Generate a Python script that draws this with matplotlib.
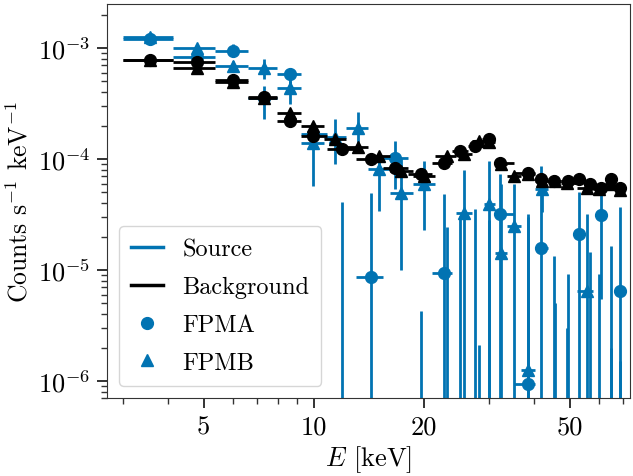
import numpy as np
import matplotlib
matplotlib.use("Agg")
import matplotlib.pyplot as plt
from matplotlib.lines import Line2D
from matplotlib.ticker import LogLocator, FuncFormatter, NullFormatter

plt.rcParams['font.family'] = 'serif'
plt.rcParams['font.serif'] = ['cmr10']
plt.rcParams['mathtext.fontset'] = 'cm'
plt.rcParams['axes.unicode_minus'] = False

blue = '#0173b2'

# energy range covered by the spectra (keV)
e_lo, e_hi = 3.0, 71.0

## FPMA (circles): bin centres, source counts with bounds, background
e_a = [3.564, 4.788, 6.007, 7.30, 8.60, 9.92, 11.90, 14.29, 16.65, 19.57, 22.66, 25.14,
       27.63, 30.07, 32.33, 38.43, 41.84, 45.41, 49.43, 52.97, 56.77, 61.03, 65.0, 68.77]
src_a = [1.206e-3, 8.34e-4, 9.45e-4, 3.53e-4, 5.82e-4, 1.67e-4, 3e-7, 8.63e-6, 1.03e-4, 3e-7,
         9.37e-6, 3e-7, 3e-7, 3e-7, 3.17e-5, 9.41e-7, 1.58e-5, 3e-7, 3e-7, 2.09e-5, 3e-7,
         3.13e-5, 3e-7, 6.52e-6]
src_a_lo = [1.10e-3, 7.6e-4, 8.5e-4, 2.28e-4, 4.73e-4, 1.3e-4, 1e-7, 1e-7, 5.32e-5, 1e-7,
            1e-7, 1e-7, 1e-7, 1e-7, 1e-7, 1e-7, 1e-7, 1e-7, 1e-7, 1e-7, 1e-7, 5.51e-6, 1e-7, 1e-7]
src_a_hi = [1.32e-3, 9.1e-4, 1.09e-3, 4.54e-4, 6.46e-4, 2.05e-4, 4.06e-5, 4.90e-5, 1.445e-4,
            4.30e-6, 4.80e-5, 3.04e-5, 3.51e-5, 2.85e-5, 7.27e-5, 3.17e-5, 8.64e-5, 1.35e-5,
            9.28e-6, 5.00e-5, 1.44e-5, 4.80e-5, 2.0e-6, 3.66e-5]
bkg_a = [7.79e-4, 7.43e-4, 5.19e-4, 3.61e-4, 2.19e-4, 1.60e-4, 1.24e-4, 9.94e-5, 8.36e-5,
         7.27e-5, 9.28e-5, 1.18e-4, 1.31e-4, 1.51e-4, 9.28e-5, 7.54e-5, 6.56e-5, 6.33e-5,
         6.33e-5, 6.56e-5, 5.91e-5, 5.5e-5, 6.56e-5, 5.44e-5]
bkg_a_err = [3e-5, 3e-5, 2.5e-5, 2e-5, 1.5e-5, 1.2e-5, 1e-5, 8e-6, 7e-6, 6e-6, 7e-6, 8e-6,
             9e-6, 1e-5, 7e-6, 6e-6, 5e-6, 5e-6, 5e-6, 5e-6, 5e-6, 5e-6, 5e-6, 5e-6]

## FPMB (triangles)
e_b = [3.564, 4.788, 6.007, 7.30, 8.60, 9.92, 11.41, 13.19, 15.05, 17.34, 19.97, 23.05, 25.78,
       28.24, 30.17, 32.43, 35.19, 38.56, 41.89, 45.56, 49.12, 55.60, 60.07, 64.80, 68.55]
src_b = [1.245e-3, 9.94e-4, 6.92e-4, 6.56e-4, 4.35e-4, 1.39e-4, 1.58e-4, 1.92e-4, 8.07e-5,
         4.95e-5, 5.91e-5, 3e-7, 3.27e-5, 3e-7, 3.90e-5, 1.41e-5, 2.47e-5, 1.26e-6, 5.32e-5,
         3e-7, 3e-7, 6.52e-6, 3e-7, 3e-7, 3e-7]
src_b_lo = [1.16e-3, 9.1e-4, 6.2e-4, 5.25e-4, 3.12e-4, 5.67e-5, 8.96e-5, 1.28e-4, 3.37e-5,
            1.01e-5, 2.27e-5, 1e-7, 1e-7, 1e-7, 1e-7, 1e-7, 1e-7, 1e-7, 3.3e-5, 1e-7, 1e-7,
            1e-7, 1e-7, 1e-7, 1e-7]
src_b_hi = [1.34e-3, 1.09e-3, 7.7e-4, 7.96e-4, 5.06e-4, 1.74e-4, 2.28e-4, 2.64e-4, 1.036e-4,
            1.015e-4, 9.53e-5, 2.42e-5, 7.90e-5, 2.12e-6, 9.59e-5, 6.0e-5, 5.91e-5, 3.0e-5,
            7.5e-5, 5e-6, 3e-6, 3.17e-5, 9.28e-6, 1.63e-5, 1.5e-6]
bkg_b = [7.71e-4, 6.56e-4, 4.93e-4, 3.51e-4, 2.62e-4, 1.99e-4, 1.51e-4, 1.27e-4, 1.065e-4,
         7.79e-5, 7.02e-5, 1.065e-4, 1.10e-4, 1.45e-4, 1.42e-4, 8.96e-5, 7.02e-5, 7.27e-5,
         6.4e-5, 6.33e-5, 6.1e-5, 5.51e-5, 5.4e-5, 5.9e-5, 5.3e-5]
bkg_b_err = [3e-5, 3e-5, 2.5e-5, 2e-5, 1.5e-5, 1.2e-5, 1e-5, 8e-6, 7e-6, 6e-6, 6e-6, 7e-6,
             8e-6, 1e-5, 1e-5, 7e-6, 6e-6, 5e-6, 5e-6, 5e-6, 5e-6, 5e-6, 5e-6, 5e-6, 5e-6]


def bin_widths(c):
    # bin edges half way (in log) between neighbouring centres
    c = np.asarray(c)
    mid = np.sqrt(c[1:] * c[:-1])
    lo = np.concatenate([[e_lo], mid])
    hi = np.concatenate([mid, [e_hi]])
    return [c - lo, hi - c]


def bounds(v, lo, hi):
    v = np.asarray(v)
    return [v - np.asarray(lo), np.asarray(hi) - v]


fig, ax = plt.subplots(figsize=(6.33, 4.77), dpi=100)
fig.subplots_adjust(left=0.169, right=0.995, top=0.99, bottom=0.163)

kw = dict(ms=8.5, elinewidth=2.0, capsize=0, lw=0)
xa = bin_widths(e_a)
xb = bin_widths(e_b)
ax.errorbar(e_a, src_a, xerr=xa, yerr=bounds(src_a, src_a_lo, src_a_hi), fmt='o', color=blue, zorder=2, **kw)
ax.errorbar(e_b, src_b, xerr=xb, yerr=bounds(src_b, src_b_lo, src_b_hi), fmt='^', color=blue, zorder=2, **kw)
ax.errorbar(e_a, bkg_a, xerr=xa, yerr=bkg_a_err, fmt='o', color='black', zorder=3, **kw)
ax.errorbar(e_b, bkg_b, xerr=xb, yerr=bkg_b_err, fmt='^', color='black', zorder=3, **kw)

ax.set_xscale('log')
ax.set_yscale('log')
ax.set_xlim(2.72, 73)
ax.set_ylim(7e-7, 2.5e-3)

ax.set_xticks([5, 10, 20, 50])
ax.set_xticklabels(['5', '10', '20', '50'])
ax.set_xticks([3, 4, 6, 7, 8, 9, 30, 40, 60, 70], minor=True)
ax.xaxis.set_minor_formatter(NullFormatter())
ax.yaxis.set_major_locator(LogLocator(base=10))
ax.yaxis.set_minor_locator(LogLocator(base=10, subs=np.arange(2, 10), numticks=20))
ax.yaxis.set_major_formatter(FuncFormatter(lambda v, p: r'$10^{%d}$' % round(np.log10(v))))
ax.yaxis.set_minor_formatter(NullFormatter())

ax.tick_params(which='major', length=7, width=1.4, labelsize=19, color='0.2', pad=5)
ax.tick_params(which='minor', length=4, width=1.0, color='0.2')
for s in ax.spines.values():
    s.set_color('0.2')

ax.set_xlabel(r'$E$ [keV]', fontsize=19, labelpad=3)
ax.set_ylabel(r'Counts s$^{-1}$ keV$^{-1}$', fontsize=18.5)

handles = [
    Line2D([], [], color=blue, lw=2.5, label='Source'),
    Line2D([], [], color='black', lw=2.5, label='Background'),
    Line2D([], [], color=blue, marker='o', ls='none', ms=8.5, label='FPMA'),
    Line2D([], [], color=blue, marker='^', ls='none', ms=8.5, label='FPMB'),
]
ax.legend(handles=handles, loc='lower left', fontsize=17.5, handlelength=1.3,
          labelspacing=0.65, borderpad=0.5)

fig.savefig('out.png', dpi=100)
